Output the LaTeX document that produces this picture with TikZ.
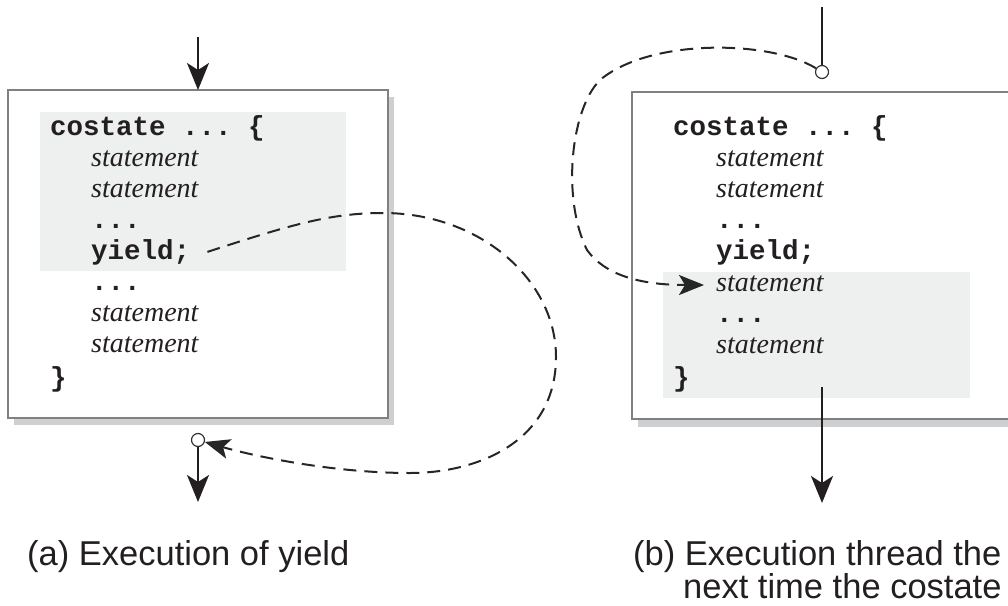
\documentclass[tikz,border=0pt]{standalone}
\usepackage{fontspec}
\setmainfont{Liberation Serif}
\setsansfont{Liberation Sans}
\setmonofont{Liberation Mono}
\usetikzlibrary{arrows.meta}

\definecolor{framegray}{RGB}{128,128,128}
\definecolor{shadowgray}{RGB}{206,207,208}
\definecolor{shadegray}{RGB}{238,240,239}
\definecolor{inkgray}{RGB}{35,31,32}

\tikzset{
  code/.style={anchor=base west, inner sep=0pt, font=\fontsize{27.5}{30}\selectfont\ttfamily\bfseries},
  stmt/.style={anchor=base west, inner sep=0pt, font=\fontsize{28}{30}\selectfont\itshape},
  caption/.style={anchor=base west, inner sep=0pt, font=\fontsize{34.5}{36}\selectfont\sffamily},
  frame/.style={draw=framegray, line width=1.4pt, fill=white},
  shadow/.style={fill=shadowgray},
  shade/.style={fill=shadegray},
  flow/.style={draw=inkgray, line width=2pt, -{Stealth[length=27pt,width=22pt,inset=7pt]}},
  jump/.style={draw=black!85, line width=2pt, dash pattern=on 13pt off 8pt, -{Stealth[length=25pt,width=20pt,inset=6pt]}},
  port/.style={circle, draw=black!80, line width=1.2pt, fill=white, minimum size=13pt, inner sep=0pt},
}

\begin{document}
\begin{tikzpicture}[x=1pt,y=-1pt,every node/.style={text=inkgray}]
  \useasboundingbox (0,0) rectangle (1008,605);
  \clip (0,0) rectangle (1008,605);

  % (a) execution of yield
  \fill[shadow] (14,97) rectangle (394,425);
  \filldraw[frame] (8,90) rectangle (388,418);
  \fill[shade] (40,112) rectangle (346,271);
  \node[code] (a1) at (50,135) {costate ... \{};
  \node[stmt] (a2) at (91,166) {statement};
  \node[stmt] (a3) at (91,197) {statement};
  \node[code] (a4) at (91,228) {...};
  \node[code] (a5) at (91,259) {yield;};
  \node[code] (a6) at (91,290) {...};
  \node[stmt] (a7) at (91,321) {statement};
  \node[stmt] (a8) at (91,352) {statement};
  \node[code] (a9) at (50,386) {\}};
  \node[port] (pa) at (198,440) {};
  \coordinate (ta) at (198,37);
  \coordinate (na) at (198,90);
  \coordinate (ea) at (198,502);
  \draw[flow] (ta) -- (na);
  \draw[flow] (pa) -- (ea);
  \draw[jump] ([xshift=17pt]a5.east) .. controls (290,225) and (330,213) .. (383,213)
    .. controls (480,213) and (556,280) .. (556,357)
    .. controls (556,440) and (480,473) .. (410,473)
    .. controls (330,473) and (250,455) .. (pa);

  % (b) the next time the costate is entered
  \fill[shadow] (638,99) rectangle (1040,427);
  \filldraw[frame] (632,92) rectangle (1034,419);
  \fill[shade] (663,272) rectangle (970,398);
  \node[code] (b1) at (673,135) {costate ... \{};
  \node[stmt] (b2) at (716,166) {statement};
  \node[stmt] (b3) at (716,197) {statement};
  \node[code] (b4) at (716,228) {...};
  \node[code] (b5) at (716,259) {yield;};
  \node[stmt] (b6) at (716,291) {statement};
  \node[code] (b7) at (716,322) {...};
  \node[stmt] (b8) at (716,353) {statement};
  \node[code] (b9) at (673,386) {\}};
  \node[port] (pb) at (822,72) {};
  \coordinate (tb) at (822,7);
  \coordinate (sb) at (822,387);
  \coordinate (eb) at (822,503);
  \coordinate (gb) at (704,285);
  \draw[draw=inkgray, line width=2pt] (tb) -- (pb);
  \draw[flow] (sb) -- (eb);
  \draw[jump] (pb) .. controls (770,40) and (650,38) .. (600,80)
    .. controls (570,110) and (562,200) .. (587,250)
    .. controls (605,275) and (640,285) .. (gb);

  % captions
  \node[caption] (ca) at (27,565) {(a) Execution of yield};
  \node[caption] (cb1) at (633,565) {(b) Execution thread the};
  \node[caption] (cb2) at (683,598) {next time the costate};
\end{tikzpicture}
\end{document}
